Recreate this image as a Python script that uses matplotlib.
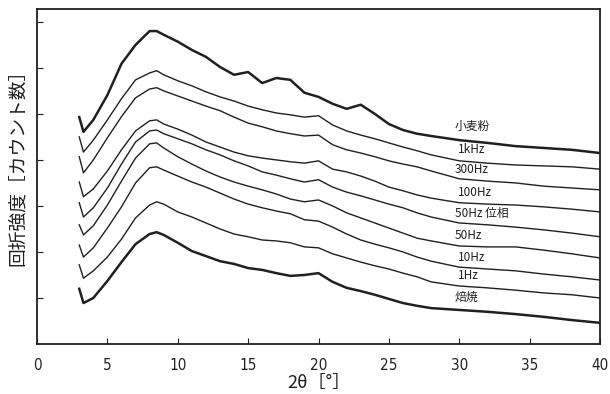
import matplotlib
matplotlib.use('Agg')
import matplotlib.pyplot as plt
from matplotlib import font_manager

# 2theta grid (deg) shared by all patterns
two_theta = [3.0, 3.3, 4, 5, 6, 7, 8, 8.5, 9, 10, 11, 12, 13, 14, 15, 16, 17, 18, 19, 20,
             21, 22, 23, 24, 25, 26, 27, 28, 30, 32, 34, 36, 38, 40]

# intensities (counts, patterns stacked as plotted)
flour = [4930, 4610, 4870, 5410, 6090, 6500, 6800, 6800, 6720, 6570, 6390, 6240, 6020, 5850,
         5910, 5670, 5780, 5740, 5460, 5370, 5220, 5110, 5200, 5000, 4780, 4650, 4570, 4520,
         4430, 4370, 4300, 4260, 4220, 4150]
hz1k = [4500, 4170, 4430, 4870, 5330, 5740, 5890, 5940, 5850, 5720, 5610, 5480, 5370, 5280,
        5170, 5090, 5020, 4980, 4930, 4960, 4760, 4630, 4540, 4460, 4370, 4280, 4200, 4110,
        3980, 3930, 3890, 3870, 3850, 3800]
hz300 = [4070, 3720, 4000, 4480, 4940, 5350, 5540, 5570, 5500, 5390, 5280, 5170, 5070, 4930,
         4800, 4720, 4630, 4570, 4520, 4540, 4330, 4220, 4150, 4070, 3980, 3910, 3850, 3760,
         3590, 3540, 3500, 3430, 3390, 3350]
hz100 = [3520, 3200, 3370, 3760, 4220, 4630, 4850, 4870, 4780, 4670, 4540, 4390, 4280, 4170,
         4090, 4040, 4000, 3960, 3930, 3980, 3800, 3740, 3650, 3540, 3410, 3330, 3240, 3170,
         3070, 3040, 3020, 2980, 2930, 2870]
hz50p = [3070, 2760, 2960, 3390, 3910, 4390, 4630, 4650, 4570, 4460, 4350, 4220, 4110, 3980,
         3870, 3740, 3670, 3590, 3520, 3570, 3410, 3300, 3220, 3130, 3040, 2960, 2850, 2760,
         2630, 2590, 2540, 2480, 2410, 2330]
hz50 = [2590, 2370, 2570, 3020, 3540, 4040, 4350, 4370, 4260, 4070, 3910, 3760, 3630, 3520,
        3430, 3350, 3260, 3150, 3090, 3130, 3000, 2850, 2740, 2630, 2520, 2410, 2300, 2240,
        2130, 2110, 2110, 2040, 1960, 1870]
hz10 = [2150, 1890, 2090, 2520, 2980, 3500, 3830, 3850, 3780, 3650, 3520, 3410, 3280, 3150,
        3040, 2960, 2890, 2830, 2700, 2670, 2540, 2390, 2260, 2170, 2090, 2000, 1890, 1800,
        1670, 1630, 1590, 1520, 1460, 1390]
hz1 = [1720, 1430, 1590, 1890, 2280, 2740, 3020, 3090, 3040, 2870, 2760, 2630, 2500, 2390,
       2330, 2260, 2240, 2200, 2110, 2090, 1960, 1870, 1780, 1700, 1630, 1540, 1460, 1350,
       1260, 1220, 1170, 1110, 1070, 1000]
roasted = [1200, 890, 1000, 1370, 1780, 2170, 2390, 2430, 2370, 2200, 2020, 1910, 1800, 1740,
           1650, 1610, 1540, 1480, 1500, 1540, 1350, 1220, 1150, 1070, 980, 890, 830, 780,
           740, 700, 650, 590, 520, 460]

series = [flour, hz1k, hz300, hz100, hz50p, hz50, hz10, hz1, roasted]
thick = [True, False, False, False, False, False, False, False, True]

labels = ['小麦粉', '1kHz', '300Hz', '100Hz', '50Hz 位相', '50Hz', '10Hz', '1Hz', '焙焼']
label_x = [29.7, 29.9, 29.7, 29.9, 29.7, 29.7, 29.9, 29.9, 29.7]
label_y = [4720, 4220, 3800, 3300, 2830, 2350, 1870, 1480, 1020]

jp = ['Noto Sans CJK JP', 'DejaVu Sans']
ink = '#231f20'

# narrow digits for the tick labels, if a condensed face is around
names = {f.name for f in font_manager.fontManager.ttflist}
narrow = [n for n in ['Liberation Sans Narrow', 'DejaVu Sans Condensed'] if n in names]
tick_font = narrow + ['DejaVu Sans']

fig = plt.figure(figsize=(6.10, 3.94), dpi=100)
ax = fig.add_axes([0.0607, 0.1269, 0.9229, 0.8503])

for ys, t in zip(series, thick):
    ax.plot(two_theta, ys, color=ink, lw=1.8 if t else 1.0)

for s, lx, ly in zip(labels, label_x, label_y):
    ax.text(lx, ly, s, family=jp, fontsize=8.5, ha='left', va='center', color=ink)

ax.set_xlim(0, 40)
ax.set_ylim(0, 7280)
ax.set_xticks(range(0, 41, 5))
ax.set_yticks(range(1000, 7001, 1000))
ax.set_yticklabels([])
ax.tick_params(direction='in', length=4, width=0.8, color=ink)
ax.tick_params(axis='x', pad=10, labelsize=11, labelcolor=ink)
for lab in ax.get_xticklabels():
    lab.set_family(tick_font)
    if not narrow:
        lab.set_fontstretch('condensed')
for sp in ax.spines.values():
    sp.set_linewidth(1.3)
    sp.set_color(ink)

ax.set_xlabel('2θ［°］', family=jp, fontsize=13, color=ink, labelpad=1)
ax.set_ylabel('回折強度［カウント数］', family=jp, fontsize=13.5, color=ink)
ax.yaxis.set_label_coords(-0.017, 0.54)

fig.savefig('out.png', dpi=100)
